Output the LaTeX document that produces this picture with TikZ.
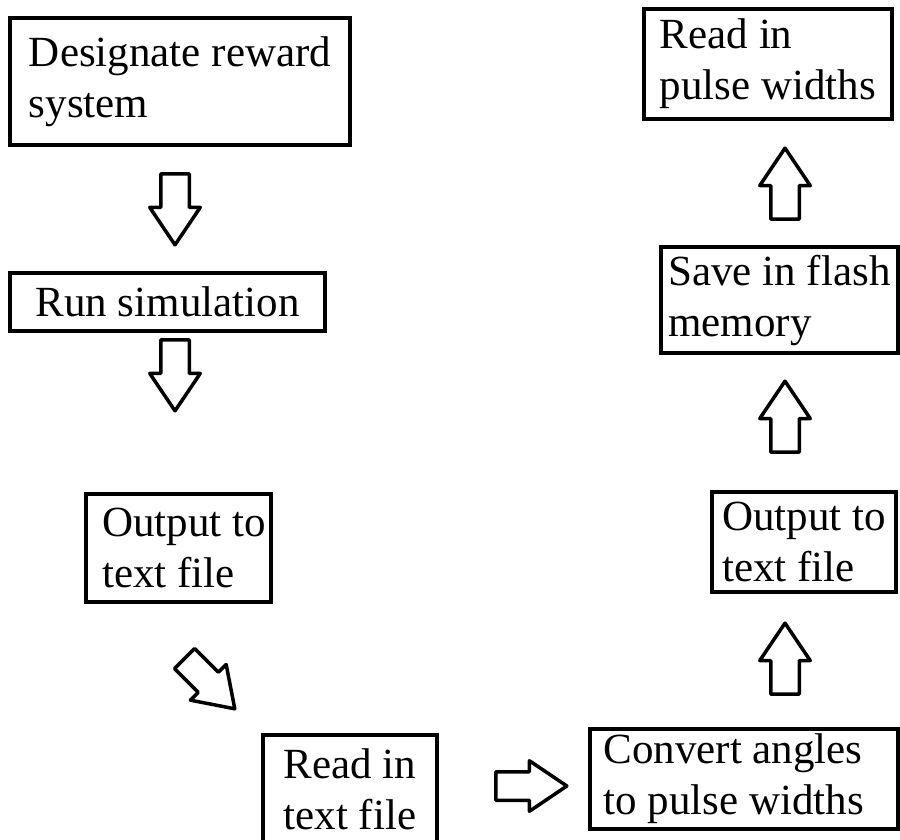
\documentclass[tikz,border=0pt]{standalone}
\usepackage{fontspec}
\setmainfont{Liberation Serif}
\usetikzlibrary{shapes.arrows}
\begin{document}
\begin{tikzpicture}[x=1pt,y=-1pt,
  box/.style={draw,line width=3.5pt,inner sep=0pt,align=left,font=\fontsize{43}{51}\selectfont},
  blk/.style={draw,line width=3.5pt,line join=round,single arrow,inner xsep=0pt,inner ysep=12.5pt,
    single arrow head extend=11pt,single arrow tip angle=68,minimum height=71pt,anchor=tip}]
\useasboundingbox (0,0) rectangle (900,839);
\node[box,minimum width=340pt,minimum height=127pt] (b1) at (180,81.5) {Designate reward\\system};
\node[box,minimum width=315pt,minimum height=58pt,align=center] (b2) at (167.5,302) {Run simulation};
\node[box,minimum width=185pt,minimum height=108pt] (b3) at (178.5,548) {\hspace*{11pt}Output to\\\hspace*{11pt}text file};
\node[box,minimum width=174pt,minimum height=108pt] (b4) at (350,789) {Read in\\text file};
\node[box,minimum width=308pt,minimum height=100pt] (b5) at (744,779) {Convert angles\hspace*{22pt}\\to pulse widths};
\node[box,minimum width=184pt,minimum height=100pt] (b6) at (804,542) {Output to\\text file};
\node[box,minimum width=237pt,minimum height=106pt] (b7) at (779.5,300) {Save in flash\\memory};
\node[box,minimum width=248pt,minimum height=110pt] (b8) at (768,64) {Read in\\pulse widths};
\node[blk,rotate=-90] (a1) at (175,248) {};
\node[blk,rotate=-90] (a2) at (175,414) {};
\node[blk,rotate=-45] (a3) at (237,711) {};
\node[blk] (a4) at (570,786) {};
\node[blk,rotate=90] (a5) at (785,620) {};
\node[blk,rotate=90] (a6) at (785,378) {};
\node[blk,rotate=90] (a7) at (785,145) {};
\end{tikzpicture}
\end{document}
